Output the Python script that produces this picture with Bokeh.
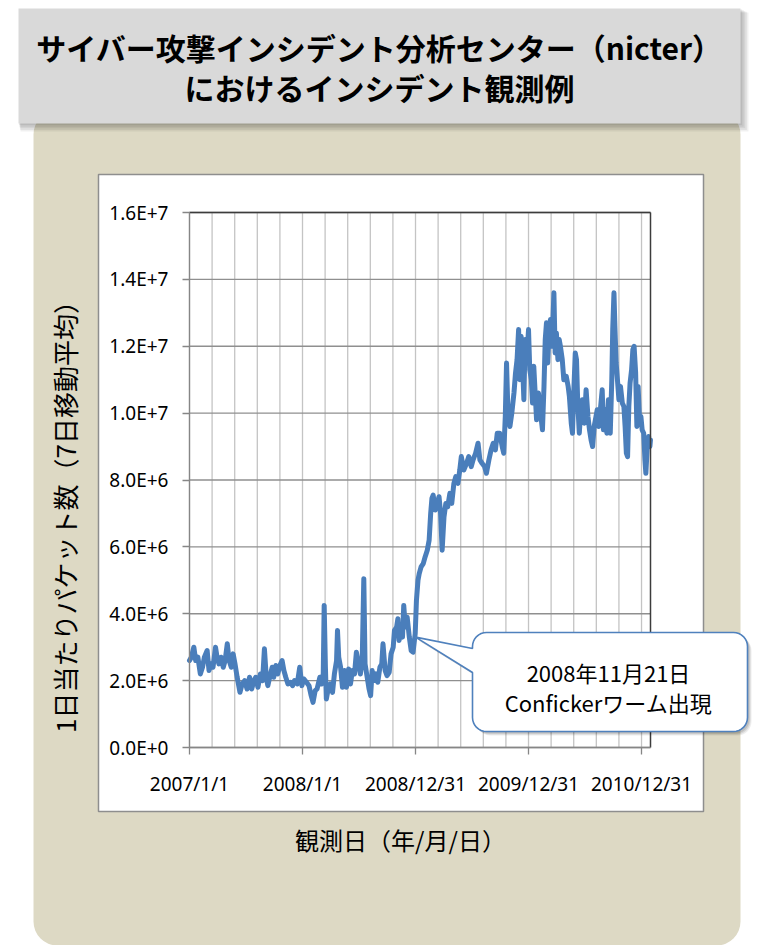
import math

from bokeh.core.properties import value
from bokeh.embed import file_html
from bokeh.models import CustomJSTickFormatter, FixedTicker, LinearAxis, Range1d
from bokeh.plotting import figure
from bokeh.resources import INLINE

# ---------------------------------------------------------------- data
# days elapsed since 2007/1/1
DAYS = [
    0, 6, 14, 20, 27, 35, 42, 48, 57, 63, 70, 76, 84, 89, 95, 102, 109, 115, 122, 128,
    135, 141, 147, 154, 163, 170, 178, 186, 194, 201, 208, 214, 221, 229, 236, 242, 248,
    253, 259, 267, 272, 279, 285, 292, 299, 305, 311, 318, 326, 333, 339, 348, 356, 363,
    369, 378, 386, 393, 399, 406, 412, 421, 427, 432, 435, 439, 442, 449, 455, 462, 468,
    475, 478, 482, 488, 494, 501, 507, 514, 520, 526, 533, 539, 546, 552, 558, 563, 567,
    574, 580, 585, 590, 595, 602, 608, 615, 621, 625, 632, 638, 645, 651, 658, 662, 669,
    673, 677, 682, 688, 692, 697, 703, 710, 716, 722, 729,
    733, 738, 742, 748, 755, 761, 768, 774, 779, 783, 787, 794, 800, 806, 811, 816, 822,
    828, 834, 841, 847, 854, 860, 867, 873, 878, 886, 895, 902, 910, 916, 924, 932, 938,
    945, 953, 959, 967, 974, 981, 988, 994, 1002, 1010, 1015, 1020, 1024, 1028, 1035,
    1041, 1048, 1053, 1058, 1063, 1067, 1071, 1076, 1080, 1084, 1089, 1095, 1099, 1104,
    1108, 1112, 1117, 1121, 1127, 1134, 1140, 1145, 1149, 1153, 1157, 1162, 1166, 1171,
    1177, 1181, 1185, 1190, 1194, 1198, 1204, 1209, 1217, 1223, 1227, 1233, 1237, 1241,
    1246, 1250, 1254, 1259, 1264, 1269, 1275, 1281, 1287, 1292, 1297, 1302, 1307, 1313,
    1317, 1322, 1328, 1333, 1337, 1343, 1348, 1353, 1359, 1364, 1367, 1371, 1374, 1378,
    1383, 1387, 1392, 1398, 1403, 1407, 1411, 1415, 1419, 1423, 1428, 1432, 1436, 1441,
    1445, 1449, 1454, 1458, 1462, 1467, 1471, 1474, 1478, 1483, 1487, 1489,
]

# packets per day, 7-day moving average, in millions
PACKETS_M = [
    2.6, 2.7, 3.0, 2.6, 2.7, 2.2, 2.4, 2.7, 2.9, 2.3, 2.5, 2.4, 3.0, 2.7, 2.5, 2.7, 2.4, 2.6, 3.1, 2.6,
    2.4, 2.8, 2.5, 2.1, 1.65, 1.9, 2.0, 1.75, 2.1, 1.75, 2.0, 2.1, 1.8, 2.2, 2.0, 2.95, 2.1,
    1.85, 2.1, 2.4, 2.1, 2.45, 2.2, 2.45, 2.6, 2.3, 2.1, 1.9, 1.95, 1.85, 2.0, 1.9, 2.4, 1.85,
    2.05, 1.95, 1.85, 1.55, 1.35, 1.7, 1.75, 2.1, 1.9, 2.2, 4.25, 2.4, 1.45, 1.8, 1.9, 1.65, 2.2,
    2.6, 3.5, 2.7, 2.4, 1.8, 2.3, 1.8, 2.35, 1.9, 2.3, 2.2, 2.85, 2.5, 2.2, 2.7, 5.05, 2.5,
    2.1, 1.75, 1.55, 2.3, 2.0, 2.2, 1.95, 2.4, 2.5, 3.1, 2.3, 2.15, 2.25, 2.8, 3.0, 3.5, 3.6,
    3.85, 3.2, 3.6, 3.3, 4.25, 3.6, 3.9, 3.3, 2.9, 2.85, 3.4,
    4.4, 5.0, 5.2, 5.4, 5.5, 5.7, 5.9, 6.2, 7.0, 7.45, 7.55, 7.1, 7.3, 7.5, 7.0, 5.9, 6.9,
    7.3, 7.2, 7.6, 7.3, 7.9, 8.1, 7.9, 8.3, 8.7, 8.3, 8.5, 8.7, 8.4, 8.6, 8.8, 9.1, 8.6,
    8.5, 8.4, 8.2, 8.6, 8.9, 9.1, 8.9, 9.4, 9.4, 9.0, 8.8, 9.9, 11.5, 10.2, 9.6,
    10.0, 10.6, 11.2, 11.6, 12.5, 11.0, 12.3, 11.4, 10.4, 12.2, 11.5, 12.5, 11.3, 11.0,
    10.3, 11.4, 10.5, 9.8, 10.6, 10.0, 9.5, 10.8, 12.2, 12.7, 11.5, 12.6, 12.8, 12.0,
    13.6, 11.8, 12.4, 11.6, 12.2, 12.0, 11.6, 11.0, 11.1, 10.8, 10.5, 9.7, 9.4, 10.6,
    11.8, 11.6, 10.3, 9.4, 10.1, 10.4, 9.7, 10.7, 9.9, 9.5, 9.2, 9.0, 9.6, 9.9,
    10.1, 9.6, 10.2, 10.7, 9.5, 10.1, 9.4, 10.4, 9.4, 11.0, 12.5, 13.6, 12.6, 11.5,
    10.9, 10.4, 10.8, 10.3, 10.2, 9.6, 8.8, 8.7, 10.2, 10.9, 11.3, 11.9, 12.0, 11.2,
    9.6, 10.8, 9.7, 9.9, 9.5, 9.4, 8.6, 8.2, 8.9, 9.3, 9.0, 9.2,
]

TICK_DAYS = [0, 365, 730, 1095, 1460]
TICK_LABELS = ["2007/1/1", "2008/1/1", "2008/12/31", "2009/12/31", "2010/12/31"]
GRID_STEP_DAYS = 73
X_END_DAY = 1489
Y_TICKS = [0, 2e6, 4e6, 6e6, 8e6, 10e6, 12e6, 14e6, 16e6]

TITLE_LINES = ["サイバー攻撃インシデント分析センター（nicter）", "におけるインシデント観測例"]
Y_TITLE = "1日当たりパケット数（7日移動平均）"
X_TITLE = "観測日（年/月/日）"
NOTE_LINES = ["2008年11月21日", "Confickerワーム出現"]
NOTE_DAY = 730
NOTE_VALUE = 3.3e6

# ---------------------------------------------------------------- page geometry (px)
W, H = 758, 945
FL, FR, FT, FB = 189, 650, 212, 747          # plot area inside the page
Y_MAX = Y_TICKS[-1]
JP = "Noto Sans CJK JP"

# the whole page is the plotting frame: the data ranges are widened so that the
# chart's own extent lands on the plot area, and a pixel range pair is kept for
# the page furniture
days_per_px = X_END_DAY / (FR - FL)
pkts_per_px = Y_MAX / (FB - FT)
x_range = Range1d(-FL * days_per_px, X_END_DAY + (W - FR) * days_per_px)
y_range = Range1d(-(H - FB) * pkts_per_px, Y_MAX + FT * pkts_per_px)

p = figure(width=W, height=H, output_backend="svg", toolbar_location=None,
           x_range=x_range, y_range=y_range, x_axis_type=None, y_axis_type=None,
           min_border=0, border_fill_color="white", background_fill_color="white",
           outline_line_color=None)
p.extra_x_ranges = {"px": Range1d(0, W)}
p.extra_y_ranges = {"px": Range1d(H, 0)}
PX = dict(x_range_name="px", y_range_name="px")

def to_px(day, val):
    return (FL + day / X_END_DAY * (FR - FL), FB - val / Y_MAX * (FB - FT))

# ---------------------------------------------------------------- page furniture
BEIGE = "#DDD9C4"
p.quad(left=[33], right=[740], top=[110], bottom=[945], fill_color=BEIGE,
       line_color=None, border_radius=24, **PX)
# chart area
p.quad(left=[98], right=[703], top=[174], bottom=[811], fill_color="white",
       line_color="#8e8e8e", line_width=1.5, **PX)

# heading panel with soft drop shadow
for k in range(1, 6):
    p.quad(left=[18 + 0.4 * k], right=[740 + 1.6 * k], top=[8 + 0.8 * k], bottom=[123 + 1.6 * k],
           fill_color="black", fill_alpha=0.06, line_color=None, **PX)
p.quad(left=[18], right=[740], top=[8], bottom=[123], fill_color="#D9D9D9",
       line_color=None, **PX)
p.text(x=[379, 379], y=[46, 86], text=TITLE_LINES, text_font=value(JP),
       text_font_size="30px", text_font_style="bold", text_color="black",
       text_align="center", text_baseline="middle", **PX)

# axis titles
p.text(x=[64], y=[510], text=[Y_TITLE], angle=math.pi / 2, text_font=value(JP),
       text_font_size="26px", text_color="black", text_align="center",
       text_baseline="middle", **PX)
p.text(x=[400], y=[839], text=[X_TITLE], text_font=value(JP), text_font_size="24px",
       text_color="black", text_align="center", text_baseline="middle", **PX)

# ---------------------------------------------------------------- grid, series, frame
grid_days = list(range(0, X_END_DAY + 1, GRID_STEP_DAYS))
p.segment(x0=grid_days, y0=[0] * len(grid_days), x1=grid_days, y1=[Y_MAX] * len(grid_days),
          line_color="#c4c4c4", line_width=1.3)
p.segment(x0=[0] * len(Y_TICKS), y0=Y_TICKS, x1=[X_END_DAY] * len(Y_TICKS), y1=Y_TICKS,
          line_color="#8f8f8f", line_width=1.3)

p.line(DAYS, [v * 1e6 for v in PACKETS_M], line_color="#4A7EBB", line_width=5,
       line_join="round", line_cap="round")

# top and right edges of the plot area
p.segment(x0=[0, X_END_DAY], y0=[Y_MAX, 0], x1=[X_END_DAY, X_END_DAY], y1=[Y_MAX, Y_MAX],
          line_color="#3c3c3c", line_width=1.5)

# axes pinned to the data origin
xa = LinearAxis(fixed_location=0, bounds=(0, X_END_DAY),
                ticker=FixedTicker(ticks=TICK_DAYS, minor_ticks=[]))
xa.major_label_overrides = dict(zip(TICK_DAYS, TICK_LABELS))
ya = LinearAxis(fixed_location=0, bounds=(0, Y_MAX),
                ticker=FixedTicker(ticks=Y_TICKS, minor_ticks=[]),
                formatter=CustomJSTickFormatter(code="return tick.toExponential(1).toUpperCase();"))
for ax in (xa, ya):
    ax.axis_line_color = "#868686"
    ax.axis_line_width = 1.3
    ax.major_tick_line_color = "#868686"
    ax.major_tick_line_width = 1.3
    ax.major_tick_in = 0
    ax.major_tick_out = 7
    ax.minor_tick_line_color = None
    ax.major_label_text_font = "Noto Sans"
    ax.major_label_text_font_size = "19px"
    ax.major_label_text_color = "black"
xa.major_label_standoff = 16
ya.major_label_standoff = 14
p.add_layout(xa, "below")
p.add_layout(ya, "left")

# ---------------------------------------------------------------- callout
tip_x, tip_y = to_px(NOTE_DAY, NOTE_VALUE)
CL, CR, CT, CB, CRAD = 472, 747, 632, 731, 14
BASE_TOP, BASE_BOT = 648, 672

def arc(cx, cy, a0, a1, n=8):
    return [(cx + CRAD * math.cos(math.radians(a0 + (a1 - a0) * i / n)),
             cy + CRAD * math.sin(math.radians(a0 + (a1 - a0) * i / n))) for i in range(n + 1)]

pts = []
pts += arc(CR - CRAD, CT + CRAD, -90, 0)
pts += arc(CR - CRAD, CB - CRAD, 0, 90)
pts += arc(CL + CRAD, CB - CRAD, 90, 180)
pts += [(CL, BASE_BOT), (tip_x, tip_y), (CL, BASE_TOP)]
pts += arc(CL + CRAD, CT + CRAD, 180, 270)
px_x = [x for x, _ in pts]
px_y = [y for _, y in pts]

for d, a in ((4, 0.07), (3, 0.09), (2, 0.11)):
    p.patch([x + d for x in px_x], [y + d for y in px_y], fill_color="black",
            fill_alpha=a, line_color=None, **PX)
p.patch(px_x, px_y, fill_color="white", line_color="#4F81BD", line_width=1.6, **PX)
p.text(x=[608, 608], y=[671, 701], text=NOTE_LINES, text_font=value(JP),
       text_font_size="22px", text_color="black", text_align="center",
       text_baseline="middle", **PX)

open("out.html", "w").write(file_html(p, INLINE))
